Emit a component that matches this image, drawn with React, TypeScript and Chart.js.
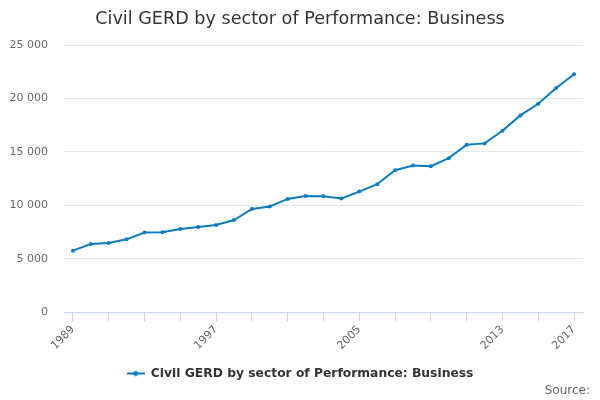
import { useEffect, useRef } from 'react';
import { Chart, registerables } from 'chart.js';

Chart.register(...registerables);

const years = [
  1989, 1990, 1991, 1992, 1993, 1994, 1995, 1996, 1997, 1998,
  1999, 2000, 2001, 2002, 2003, 2004, 2005, 2006, 2007, 2008,
  2009, 2010, 2011, 2012, 2013, 2014, 2015, 2016, 2017,
];
const business = [
  5760, 6380, 6470, 6820, 7450, 7480, 7790, 7970, 8160, 8630,
  9660, 9890, 10600, 10880, 10850, 10640, 11290, 11980, 13290, 13730,
  13670, 14420, 15670, 15800, 16980, 18420, 19510, 20980, 22270,
];
const tickYears = [1989, 1991, 1993, 1995, 1997, 1999, 2001, 2003, 2005, 2007, 2009, 2011, 2013, 2015, 2017];
const labelYears = [1989, 1997, 2005, 2013, 2017];

const seriesName = 'Civil GERD by sector of Performance: Business';
const lineColor = '#0a7cc1';

const fmt = (v: number) => String(v).replace(/\B(?=(\d{3})+(?!\d))/g, ' ');

export default function App() {
  const canvasRef = useRef<HTMLCanvasElement>(null);

  useEffect(() => {
    if (!canvasRef.current) return;
    const ctx = canvasRef.current.getContext('2d');
    if (!ctx) return;

    Chart.defaults.font.family = "'DejaVu Sans', sans-serif";

    // legend marker: short line with a dot in the middle
    const marker = document.createElement('canvas');
    marker.width = 18;
    marker.height = 8;
    const m = marker.getContext('2d');
    if (m) {
      m.strokeStyle = lineColor;
      m.lineWidth = 2;
      m.beginPath();
      m.moveTo(0, 4);
      m.lineTo(18, 4);
      m.stroke();
      m.fillStyle = lineColor;
      m.beginPath();
      m.arc(9, 4, 2.5, 0, Math.PI * 2);
      m.fill();
    }

    const chart = new Chart(ctx, {
      type: 'line',
      data: {
        datasets: [
          {
            label: seriesName,
            data: years.map((y, i) => ({ x: y, y: business[i] })),
            borderColor: lineColor,
            backgroundColor: lineColor,
            borderWidth: 2,
            pointRadius: 2,
            pointBorderWidth: 0,
            tension: 0,
            fill: false,
          },
        ],
      },
      options: {
        responsive: true,
        maintainAspectRatio: false,
        animation: false,
        layout: { padding: { left: 10, right: 10, top: 0, bottom: 2 } },
        plugins: {
          title: {
            display: true,
            text: 'Civil GERD by sector of Performance: Business',
            color: '#333333',
            font: { size: 17.6, weight: 'normal' },
            padding: { top: 9, bottom: 15 },
          },
          subtitle: {
            display: true,
            position: 'bottom',
            align: 'end',
            text: 'Source:',
            color: '#666666',
            font: { size: 12, weight: 'normal' },
            padding: { top: -6, bottom: 0 },
          },
          legend: {
            display: true,
            position: 'bottom',
            labels: {
              usePointStyle: true,
              pointStyle: marker,
              pointStyleWidth: 18,
              color: '#333333',
              font: { size: 12.3, weight: 'bold' },
              padding: 6,
            },
          },
          tooltip: { enabled: false },
        },
        scales: {
          x: {
            type: 'linear',
            min: 1988.5,
            max: 2017.5,
            afterBuildTicks: (scale: any) => {
              scale.ticks = tickYears.map((v) => ({ value: v }));
            },
            afterFit: (scale: any) => {
              scale.paddingLeft = 0;
              scale.paddingRight = 17;
              scale.height += 7;
            },
            ticks: {
              autoSkip: false,
              minRotation: 45,
              maxRotation: 45,
              color: '#666666',
              font: { size: 11 },
              padding: 2,
              callback: (v: any) => (labelYears.includes(Number(v)) ? String(v) : ''),
            },
            grid: {
              drawOnChartArea: false,
              drawTicks: true,
              tickLength: 9,
              color: '#ccd6eb',
            },
            border: { display: true, color: '#ccd6eb' },
          },
          y: {
            min: 0,
            max: 25000,
            afterFit: (scale: any) => {
              scale.width = 54;
            },
            ticks: {
              stepSize: 5000,
              color: '#666666',
              font: { size: 11 },
              padding: 16,
              callback: (v: any) => fmt(Number(v)),
            },
            grid: { color: '#e6e6e6', drawTicks: false },
            border: { display: false },
          },
        },
      },
    });

    return () => {
      chart.destroy();
    };
  }, []);

  return (
    <div style={{ position: 'fixed', left: 0, top: 0, width: 600, height: 400, background: '#ffffff' }}>
      <canvas ref={canvasRef} />
    </div>
  );
}
